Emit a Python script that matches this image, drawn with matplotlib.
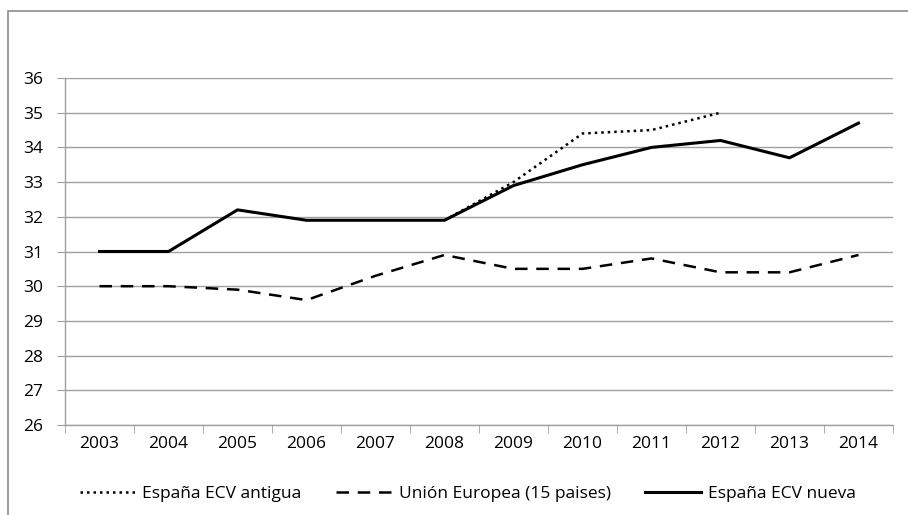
import matplotlib
matplotlib.use("Agg")
import matplotlib.pyplot as plt
from matplotlib.patches import Rectangle

years = ["2003", "2004", "2005", "2006", "2007", "2008", "2009", "2010", "2011", "2012", "2013", "2014"]
antigua_years = ["2008", "2009", "2010", "2011", "2012"]
antigua = [31.9, 33.0, 34.4, 34.5, 35.0]
ue15 = [30.0, 30.0, 29.9, 29.6, 30.3, 30.9, 30.5, 30.5, 30.8, 30.4, 30.4, 30.9]
nueva = [31.0, 31.0, 32.2, 31.9, 31.9, 31.9, 32.9, 33.5, 34.0, 34.2, 33.7, 34.7]
yticks = [26, 27, 28, 29, 30, 31, 32, 33, 34, 35, 36]

plt.rcParams['font.family'] = ['Open Sans', 'DejaVu Sans']
fs = 12.5
fig = plt.figure(figsize=(9.08, 5.15), dpi=100)
ax = fig.add_axes([65/908, 1-425/515, (893-65)/908, (425-78)/515])

x = list(range(len(years)))
xa = [years.index(y) for y in antigua_years]
l1, = ax.plot(xa, antigua, color='black', linestyle=(0, (1, 1.6)), linewidth=1.8,
              label='España ECV antigua', zorder=2)
l2, = ax.plot(x, ue15, color='black', linestyle=(0, (5, 3.5)), linewidth=1.8,
              label='Unión Europea (15 paises)', zorder=3)
l3, = ax.plot(x, nueva, color='black', linestyle='-', linewidth=2.2,
              label='España ECV nueva', zorder=4)

ax.set_xlim(-0.5, len(years) - 0.5)
ax.set_ylim(26, 36)
ax.set_yticks(yticks)
ax.set_yticklabels([str(v) for v in yticks], fontsize=fs)
ax.set_xticks(x)
ax.set_xticklabels(years, fontsize=fs)
ax.set_xticks([i - 0.5 for i in range(len(years) + 1)], minor=True)
ax.tick_params(axis='x', which='major', length=0, pad=8)
ax.tick_params(axis='x', which='minor', length=6, color='#a0a0a0', direction='out')
ax.tick_params(axis='y', length=6, color='#a0a0a0', direction='out', pad=10)
ax.yaxis.grid(True, color='#a0a0a0', linewidth=1.0)
ax.set_axisbelow(True)
for s in ['top', 'right']:
    ax.spines[s].set_visible(False)
for s in ['left', 'bottom']:
    ax.spines[s].set_color('#a0a0a0')
    ax.spines[s].set_linewidth(1.0)

fig.legend(handles=[l1, l2, l3], loc='center', bbox_to_anchor=(0.515, 1-494/515), ncol=3,
           frameon=False, fontsize=fs, handlelength=3.2, columnspacing=2.0, handletextpad=0.4)

fig.add_artist(Rectangle((8/908, -0.1), 1.2, 1 - 11/515 + 0.1, transform=fig.transFigure,
                         fill=False, edgecolor='#8c8c8c', linewidth=1.2))

fig.savefig('out.png', dpi=100)
